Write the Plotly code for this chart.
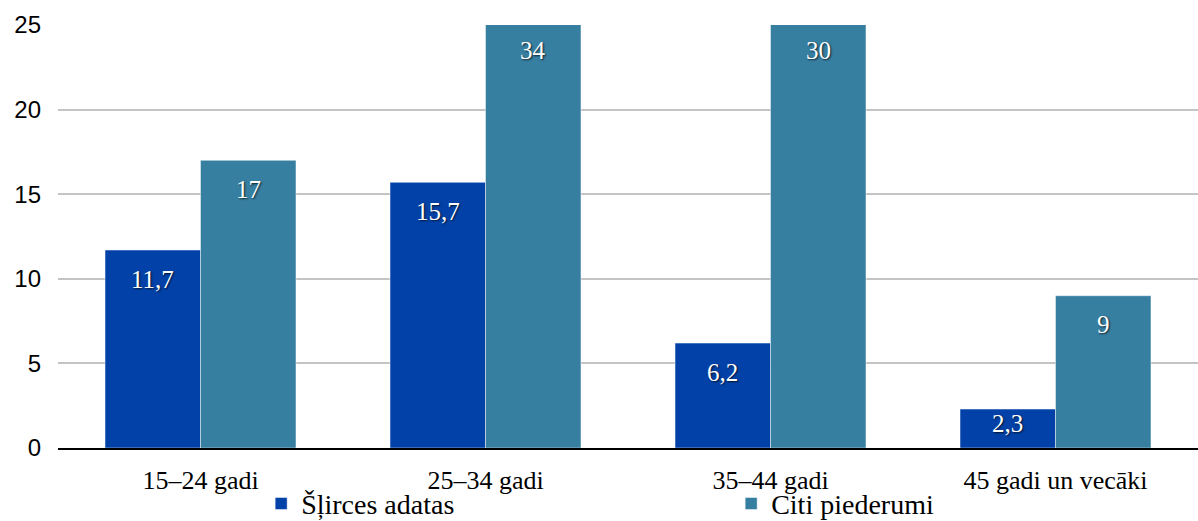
import plotly.graph_objects as go

# Age groups and the two series (percent)
categories = ["15–24 gadi", "25–34 gadi", "35–44 gadi", "45 gadi un vecāki"]
needles = [11.7, 15.7, 6.2, 2.3]
other_items = [17, 34, 30, 9]
series_names = ["Šļirces adatas", "Citi piederumi"]
y_ticks = [0, 5, 10, 15, 20, 25]

Y_MAX = 25
BLUE = "#0242A8"
TEAL = "#377FA1"
SERIF = "Liberation Serif"
SANS = "Liberation Sans"

W, H = 1198, 521
M = dict(l=58, r=0, t=25, b=73)
BARGAP = 0.33

plot_w = W - M["l"] - M["r"]
plot_h = H - M["t"] - M["b"]
px_per_unit = plot_h / Y_MAX
bar_px = plot_w / len(categories) * (1 - BARGAP) / 2


def fmt(v):
    s = f"{v:g}"
    return s.replace(".", ",")


fig = go.Figure()
for name, vals, color in [(series_names[0], needles, BLUE),
                          (series_names[1], other_items, TEAL)]:
    fig.add_trace(go.Bar(
        x=categories, y=vals, name=name,
        marker=dict(color=color, line=dict(color="rgba(255,255,255,0.45)", width=1)),
    ))

# value labels inside the top of each bar (clipped bars get their label at the axis top)
annotations = []
for side, vals in [(-1, needles), (1, other_items)]:
    for cat, v in zip(categories, vals):
        top = min(v, Y_MAX)
        shift = min(29, 0.36 * v * px_per_unit) if v <= Y_MAX else 25
        annotations.append(dict(
            x=cat, y=top, xref="x", yref="y",
            xshift=side * bar_px / 2, yshift=-shift,
            text=fmt(v), showarrow=False, yanchor="middle", xanchor="center",
            font=dict(family=SERIF, size=25, color="white",
                      shadow="1px 1px 2px rgba(0,0,0,0.75)"),
        ))

fig.update_layout(
    width=W, height=H, margin=M,
    paper_bgcolor="white", plot_bgcolor="white",
    barmode="group", bargap=BARGAP, bargroupgap=0,
    annotations=annotations,
    showlegend=True,
    legend=dict(
        orientation="h", xref="container", yref="container",
        x=0.218, xanchor="left", y=0.033, yanchor="middle",
        font=dict(family=SERIF, size=28, color="black"),
        entrywidth=425, entrywidthmode="pixels", itemwidth=30,
        bgcolor="rgba(0,0,0,0)", traceorder="normal",
    ),
    xaxis=dict(
        showgrid=False, showline=True, linecolor="black", linewidth=2,
        ticks="", tickfont=dict(family=SERIF, size=26, color="black"),
        ticklabelstandoff=8, automargin=False,
    ),
    yaxis=dict(
        range=[0, Y_MAX], tickvals=y_ticks, showgrid=True,
        gridcolor="#C4C4C4", gridwidth=2, zeroline=False, showline=False,
        ticks="", tickfont=dict(family=SANS, size=24, color="black"),
        ticklabelstandoff=16, automargin=False,
    ),
)

fig.write_html("out.html")
